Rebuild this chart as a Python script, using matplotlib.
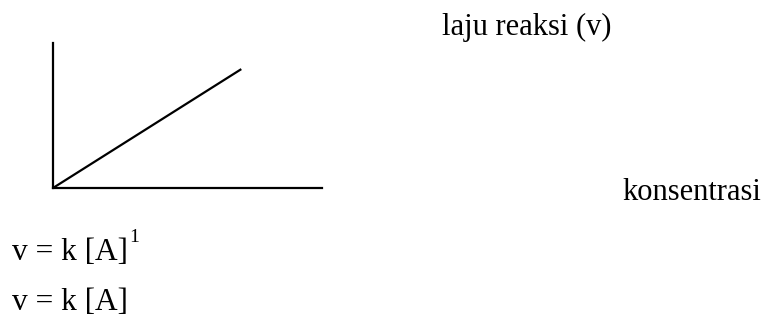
import matplotlib.pyplot as plt

plt.rcParams['font.family'] = ['Liberation Serif', 'DejaVu Serif']

# konsentrasi [A] vs laju reaksi v, orde satu
konsentrasi = [0.0, 0.7]
laju = [0.0, 0.82]

label_y = 'laju reaksi (v)'
label_x = 'konsentrasi'
rumus_1 = 'v = k [A]'
pangkat = '1'
rumus_2 = 'v = k [A]'

fig = plt.figure(figsize=(7.7, 3.21), dpi=100)
ax = fig.add_axes([0.0688, 0.4143, 0.3494, 0.4517])
ax.plot(konsentrasi, laju, color='black', lw=1.6, solid_capstyle='butt')
ax.set_xlim(0, 1)
ax.set_ylim(0, 1)
ax.set_xticks([])
ax.set_yticks([])
for s in ['top', 'right']:
    ax.spines[s].set_visible(False)
for s in ['left', 'bottom']:
    ax.spines[s].set_linewidth(1.6)

fs = 22
W, H = 770, 321
fig.text(442 / W, 1 - 35 / H, label_y, fontsize=fs, va='baseline', ha='left')
fig.text(622 / W, 1 - 200 / H, label_x, fontsize=fs, va='baseline', ha='left')
t1 = fig.text(12 / W, 1 - 260 / H, rumus_1, fontsize=22.6, va='baseline', ha='left')
fig.text(12 / W, 1 - 310 / H, rumus_2, fontsize=22.6, va='baseline', ha='left')

fig.canvas.draw()
bb = t1.get_window_extent()
fig.text(bb.x1 / W + 1 / W, 1 - 242 / H, pangkat, fontsize=14, va='baseline', ha='left')

fig.savefig('out.png', dpi=100)
